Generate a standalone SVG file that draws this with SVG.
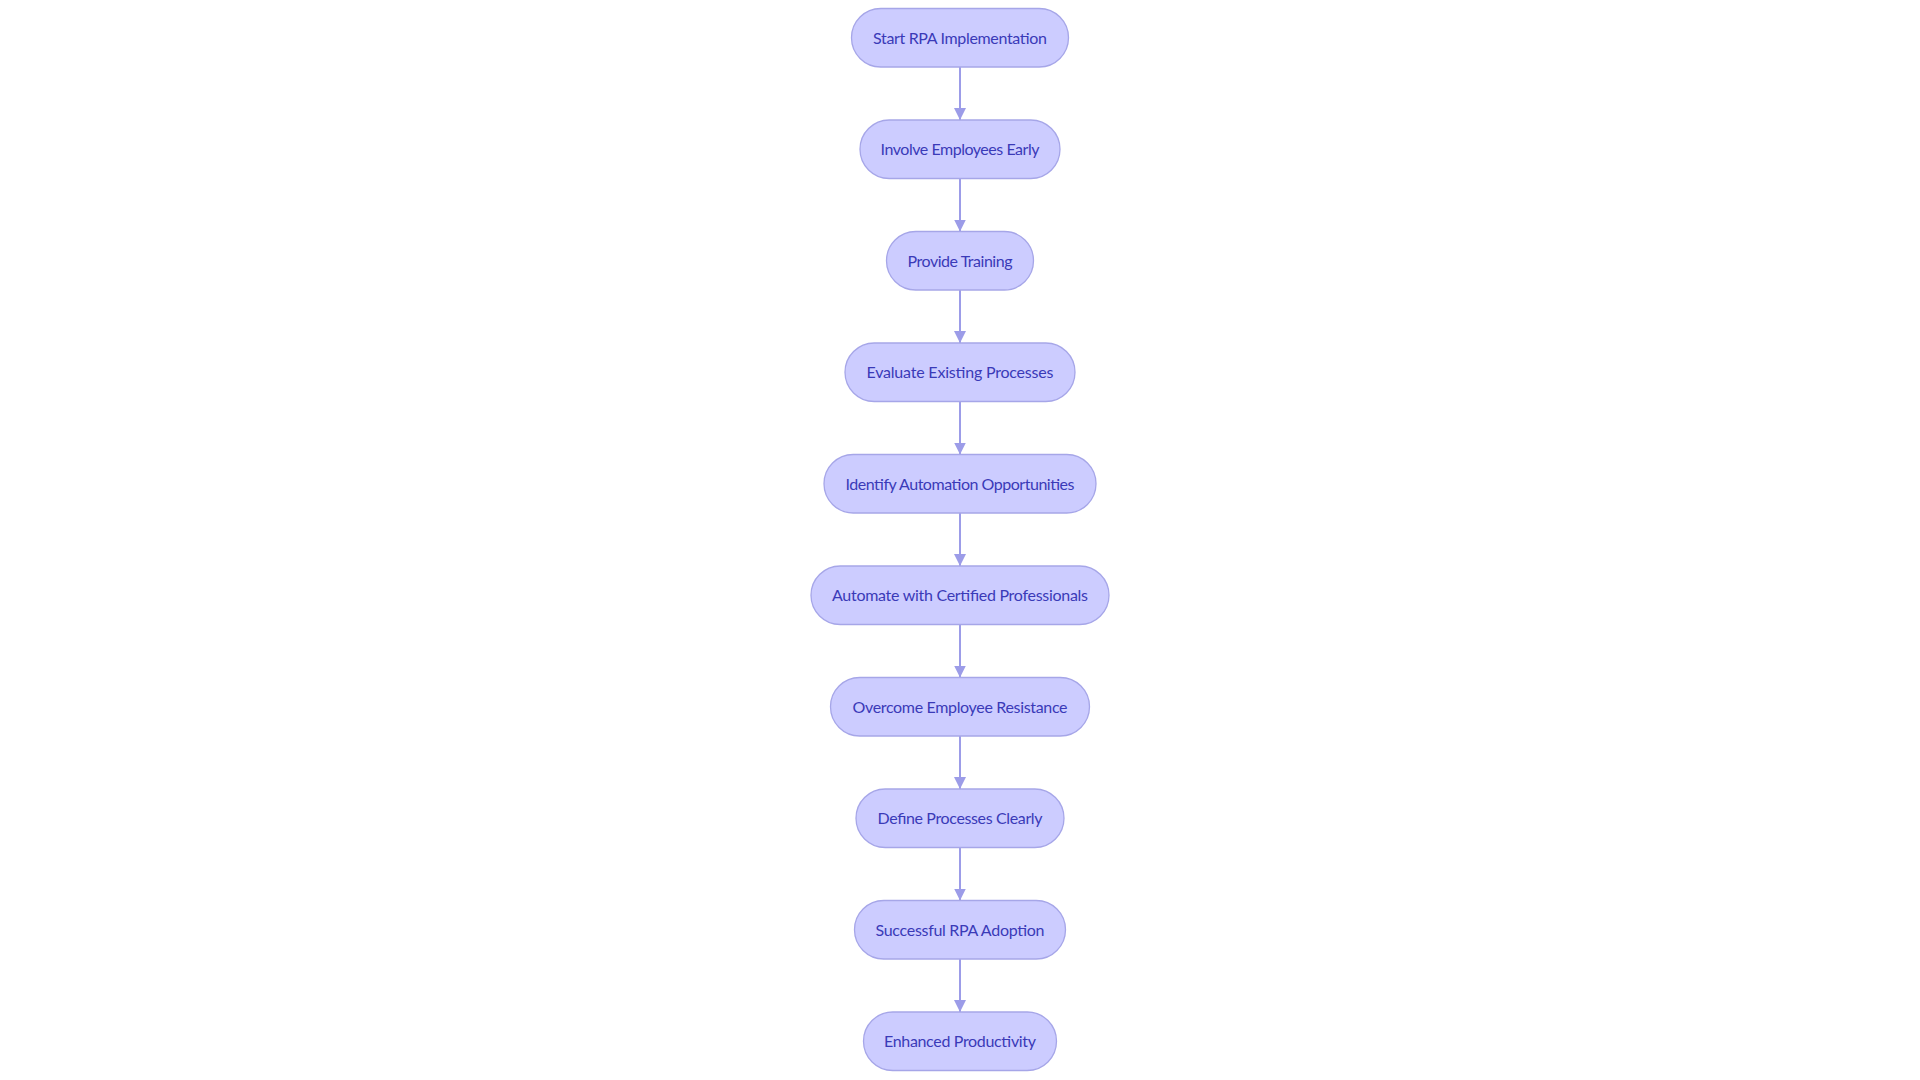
<svg xmlns="http://www.w3.org/2000/svg" width="1920" height="1080" viewBox="0 0 1920 1080">
<defs>
<style>
.node rect{fill:#CCCCFF;stroke:#A6A6E8;stroke-width:1.3}
.node text{font-family:Lato,"Noto Sans",sans-serif;font-size:16px;fill:#3A3AB8;text-anchor:middle}
.edge{stroke:#9C9CE8;stroke-width:2;fill:none}
</style>
<marker id="arr" viewBox="0 0 12 13" refX="12" refY="6" markerWidth="12" markerHeight="13" markerUnits="userSpaceOnUse" orient="auto">
<path d="M0,0 L12,6 L0,12 z" fill="#9C9CE8"/>
</marker>
</defs>
<rect width="1920" height="1080" fill="#ffffff"/>
<g id="connectors">
<line class="edge" x1="960" y1="67" x2="960" y2="120" marker-end="url(#arr)"/>
<line class="edge" x1="960" y1="178.5" x2="960" y2="231.5" marker-end="url(#arr)"/>
<line class="edge" x1="960" y1="290" x2="960" y2="343" marker-end="url(#arr)"/>
<line class="edge" x1="960" y1="401.5" x2="960" y2="454.5" marker-end="url(#arr)"/>
<line class="edge" x1="960" y1="513" x2="960" y2="566" marker-end="url(#arr)"/>
<line class="edge" x1="960" y1="624.5" x2="960" y2="677.5" marker-end="url(#arr)"/>
<line class="edge" x1="960" y1="736" x2="960" y2="789" marker-end="url(#arr)"/>
<line class="edge" x1="960" y1="847.5" x2="960" y2="900.5" marker-end="url(#arr)"/>
<line class="edge" x1="960" y1="959" x2="960" y2="1012" marker-end="url(#arr)"/>
</g>
<g id="n1" class="node"><rect x="851.5" y="8.5" width="217" height="58.5" rx="29.25"/><text x="960" y="43.5" textLength="174" lengthAdjust="spacing">Start RPA Implementation</text></g>
<g id="n2" class="node"><rect x="860" y="120" width="200" height="58.5" rx="29.25"/><text x="960" y="155" textLength="159" lengthAdjust="spacing">Involve Employees Early</text></g>
<g id="n3" class="node"><rect x="886.5" y="231.5" width="147" height="58.5" rx="29.25"/><text x="960" y="266.5" textLength="105" lengthAdjust="spacing">Provide Training</text></g>
<g id="n4" class="node"><rect x="845" y="343" width="230" height="58.5" rx="29.25"/><text x="960" y="378" textLength="187" lengthAdjust="spacing">Evaluate Existing Processes</text></g>
<g id="n5" class="node"><rect x="824" y="454.5" width="272" height="58.5" rx="29.25"/><text x="960" y="489.5" textLength="229" lengthAdjust="spacing">Identify Automation Opportunities</text></g>
<g id="n6" class="node"><rect x="811" y="566" width="298" height="58.5" rx="29.25"/><text x="960" y="601" textLength="256" lengthAdjust="spacing">Automate with Certified Professionals</text></g>
<g id="n7" class="node"><rect x="830.5" y="677.5" width="259" height="58.5" rx="29.25"/><text x="960" y="712.5" textLength="215" lengthAdjust="spacing">Overcome Employee Resistance</text></g>
<g id="n8" class="node"><rect x="856" y="789" width="208" height="58.5" rx="29.25"/><text x="960" y="824" textLength="165" lengthAdjust="spacing">Define Processes Clearly</text></g>
<g id="n9" class="node"><rect x="854.5" y="900.5" width="211" height="58.5" rx="29.25"/><text x="960" y="935.5" textLength="169" lengthAdjust="spacing">Successful RPA Adoption</text></g>
<g id="n10" class="node"><rect x="863.5" y="1012" width="193" height="58.5" rx="29.25"/><text x="960" y="1047" textLength="152" lengthAdjust="spacing">Enhanced Productivity</text></g>
</svg>
